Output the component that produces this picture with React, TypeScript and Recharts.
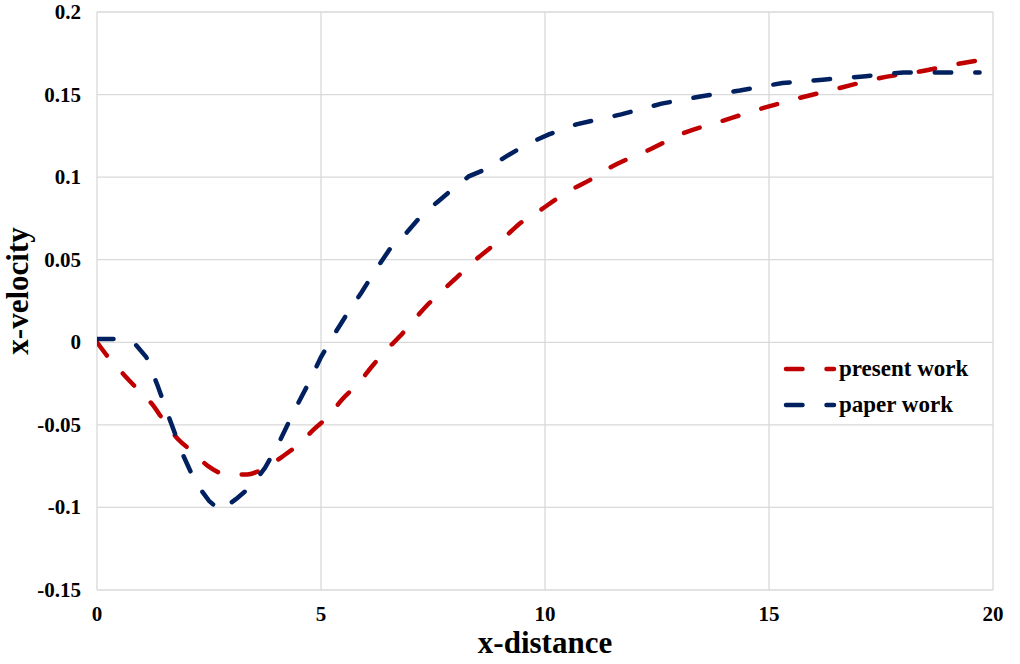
import { LineChart, Line, XAxis, YAxis, CartesianGrid, Label } from "recharts";

const presentX = [
  0, 0.22, 0.58, 0.89, 1.23, 1.47, 1.81, 2.12, 2.48, 2.9, 3.35, 3.75, 4.15, 4.49, 4.87, 5.16,
  5.49, 5.83, 6.14, 6.43, 6.76, 7.05, 7.39, 7.7, 8.06, 8.37, 8.77, 9.11, 9.49, 9.84, 10.27,
  10.63, 11.05, 11.4, 11.85, 12.28, 13.08, 13.95, 14.84, 15.69, 16.58, 17.48, 18.37, 19.3, 20,
];
const presentY = [
  0, -0.008, -0.019, -0.028, -0.0375, -0.0466, -0.0587, -0.066, -0.075, -0.08, -0.08, -0.076,
  -0.069, -0.062, -0.052, -0.045, -0.034, -0.025, -0.0145, -0.0054, 0.0036, 0.0127, 0.023,
  0.031, 0.04, 0.048, 0.057, 0.064, 0.073, 0.079, 0.087, 0.093, 0.099, 0.105, 0.111, 0.116,
  0.1265, 0.134, 0.1416, 0.148, 0.154, 0.16, 0.164, 0.169, 0.172,
];

const paperX = [
  0, 0.45, 0.85, 1.1, 1.35, 1.6, 1.9, 2.2, 2.5, 2.75, 3.1, 3.45, 3.75, 4.0, 4.2, 4.45, 4.7, 5.0,
  5.3, 5.6, 5.9, 6.2, 6.55, 6.9, 7.25, 7.6, 7.95, 8.3, 8.7, 9.1, 9.6, 10.1, 10.7, 11.2, 11.7,
  12.6, 13.5, 14.35, 15.3, 16.2, 17.1, 18.0, 19.7,
];
const paperY = [
  0.002, 0.002, -0.001, -0.009, -0.026, -0.045, -0.067, -0.085, -0.096, -0.102, -0.095, -0.087,
  -0.076, -0.064, -0.053, -0.039, -0.026, -0.009, 0.005, 0.018, 0.03, 0.043, 0.057, 0.066, 0.077,
  0.085, 0.093, 0.1005, 0.105, 0.112, 0.12, 0.126, 0.132, 0.135, 0.138, 0.1445, 0.149, 0.1525,
  0.157, 0.159, 0.161, 0.1634, 0.1634,
];

const xTicks = [0, 5, 10, 15, 20];
const yTicks = [-0.15, -0.1, -0.05, 0, 0.05, 0.1, 0.15, 0.2];

const presentData = presentX.map((x, i) => ({ x, y: presentY[i] }));
const paperData = paperX.map((x, i) => ({ x, y: paperY[i] }));

const FONT = "Liberation Serif";
const RED = "#c00000";
const BLUE = "#002060";
const DASH = "16.5 24";

const series = [
  { name: "present work", color: RED },
  { name: "paper work", color: BLUE },
];

function XTick({ x, y, payload }: any) {
  return (
    <text
      x={x}
      y={y + 14}
      textAnchor="middle"
      fontFamily={FONT}
      fontWeight="bold"
      fontSize={21}
      fill="#000"
    >
      {payload.value}
    </text>
  );
}

function YTick({ x, y, payload }: any) {
  return (
    <text
      x={x}
      y={y}
      dy={7}
      textAnchor="end"
      fontFamily={FONT}
      fontWeight="bold"
      fontSize={21}
      fill="#000"
    >
      {payload.value}
    </text>
  );
}

function LegendBox() {
  return (
    <div
      style={{
        position: "absolute",
        left: 781,
        top: 351,
        fontFamily: FONT,
        fontWeight: "bold",
        fontSize: 23,
        color: "#000",
      }}
    >
      {series.map((s) => (
        <div key={s.name} style={{ display: "flex", alignItems: "center", height: 36 }}>
          <svg width={58} height={20} style={{ display: "block" }}>
            <line
              x1={5}
              y1={10}
              x2={53}
              y2={10}
              stroke={s.color}
              strokeWidth={4.5}
              strokeLinecap="round"
              strokeDasharray={DASH}
            />
          </svg>
          <span style={{ lineHeight: "36px" }}>{s.name}</span>
        </div>
      ))}
    </div>
  );
}

export default function App() {
  return (
    <div style={{ position: "absolute", left: 0, top: 0, width: 1020, height: 664, background: "#fff" }}>
      <LineChart
        width={1020}
        height={664}
        margin={{ top: 12, right: 27, bottom: 0, left: 0 }}
      >
        <CartesianGrid stroke="#d9d9d9" strokeWidth={1.3} />
        <XAxis
          type="number"
          dataKey="x"
          domain={[0, 20]}
          ticks={xTicks}
          allowDataOverflow
          height={74}
          axisLine={false}
          tickLine={false}
          tickSize={0}
          tickMargin={17}
          tick={<XTick />}
        >
          <Label
            value="x-distance"
            position="insideBottom"
            offset={11}
            fontFamily={FONT}
            fontWeight="bold"
            fontSize={31}
            fill="#000"
          />
        </XAxis>
        <YAxis
          type="number"
          dataKey="y"
          domain={[-0.15, 0.2]}
          ticks={yTicks}
          allowDataOverflow
          width={97}
          axisLine={false}
          tickLine={false}
          tickSize={0}
          tickMargin={16}
          tick={<YTick />}
        >
          <Label
            content={({ viewBox }: any) => {
              const cy = viewBox.y + viewBox.height / 2 - 10;
              return (
                <text
                  x={17}
                  y={cy}
                  transform={`rotate(-90, 17, ${cy})`}
                  textAnchor="middle"
                  dominantBaseline="central"
                  fontFamily={FONT}
                  fontWeight="bold"
                  fontSize={31}
                  fill="#000"
                >
                  x-velocity
                </text>
              );
            }}
          />
        </YAxis>
        <Line
          data={presentData}
          dataKey="y"
          name="present work"
          type="monotone"
          stroke={RED}
          strokeWidth={4.5}
          strokeLinecap="round"
          strokeDasharray={DASH}
          dot={false}
          isAnimationActive={false}
        />
        <Line
          data={paperData}
          dataKey="y"
          name="paper work"
          type="linear"
          stroke={BLUE}
          strokeWidth={4.5}
          strokeLinecap="round"
          strokeDasharray={DASH}
          dot={false}
          isAnimationActive={false}
        />
      </LineChart>
      <LegendBox />
    </div>
  );
}
